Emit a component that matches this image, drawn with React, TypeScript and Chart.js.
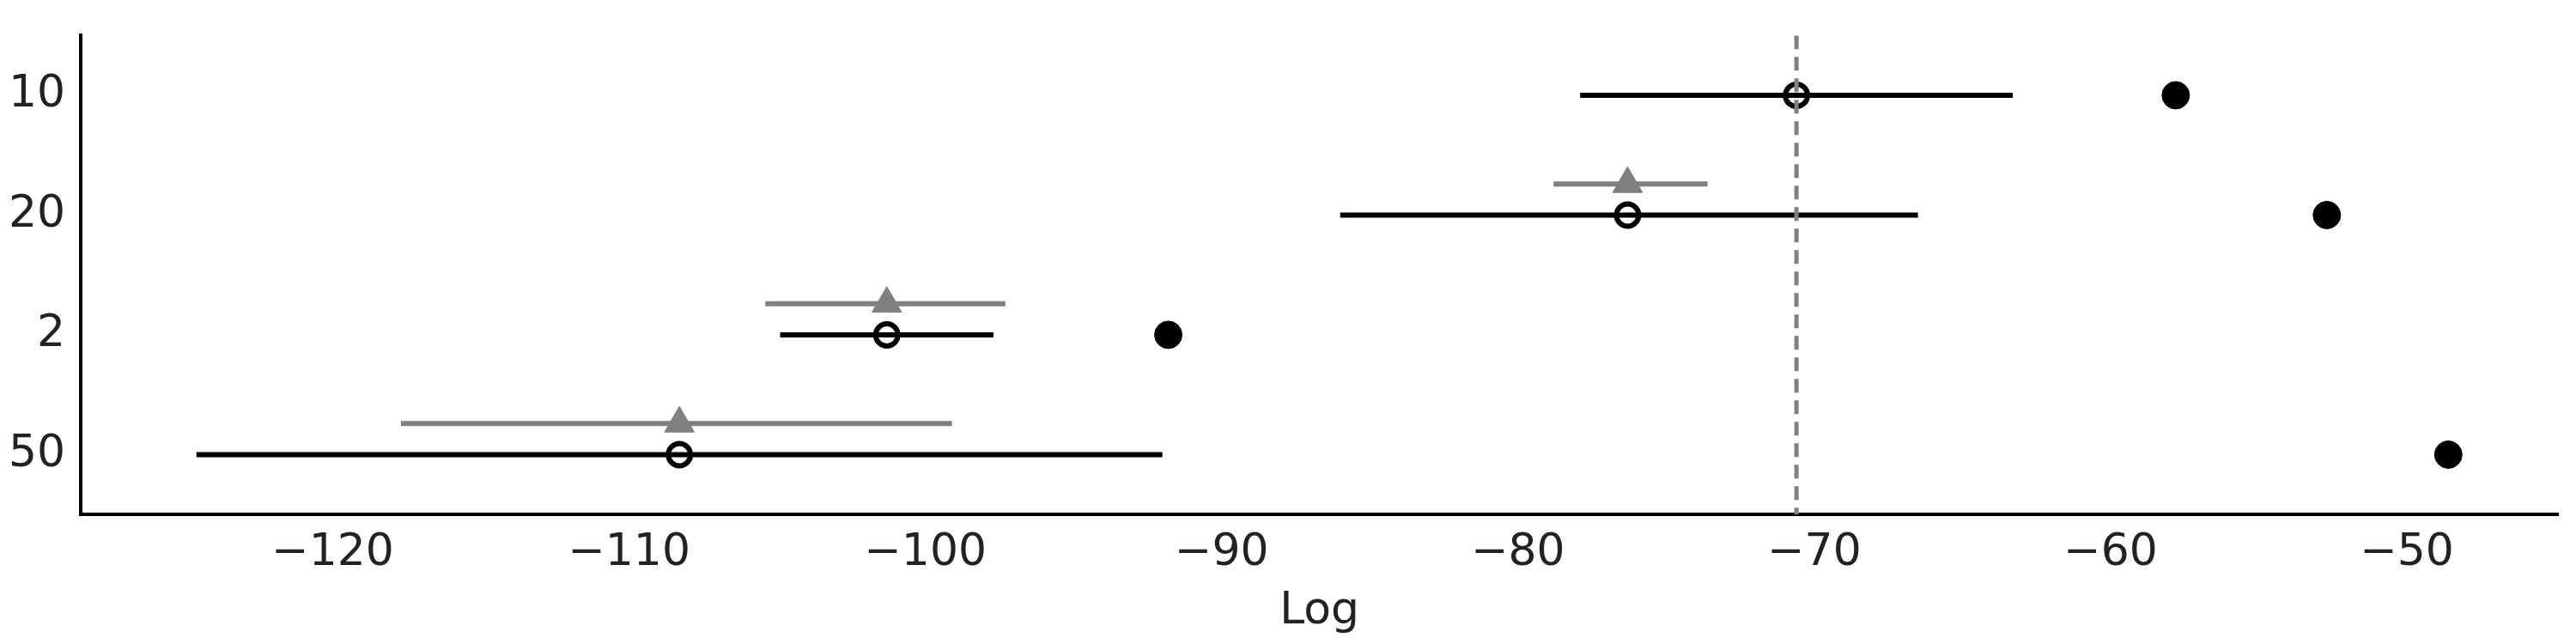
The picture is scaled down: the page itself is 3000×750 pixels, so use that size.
import React, { useEffect, useRef } from "react";
import { Chart, registerables } from "chart.js";
Chart.register(...registerables);

const models = ["10", "20", "2", "50"];
const elpd = [-70.6, -76.3, -101.3, -108.3];
const elpdLow = [-77.9, -86.0, -104.9, -124.6];
const elpdHigh = [-63.3, -66.5, -97.7, -92.0];
const inSample = [-57.8, -52.7, -91.8, -48.6];
const diffModels = [1, 2, 3];
const diffVal = [-76.3, -101.3, -108.3];
const diffLow = [-78.8, -105.4, -117.7];
const diffHigh = [-73.6, -97.3, -99.1];
const xTicks = [-120, -110, -100, -90, -80, -70, -60, -50];
const refLine = -70.6;
const TRI = 0.26;

export default function App() {
  const ref = useRef<HTMLCanvasElement>(null);
  useEffect(() => {
    document.body.style.margin = "0";
    const ds: any[] = [];
    ds.push({
      data: [{ x: refLine, y: -0.5 }, { x: refLine, y: 3.5 }],
      showLine: true, borderColor: "#808080", borderWidth: 5, borderDash: [16, 9], pointRadius: 0,
    });
    models.forEach((m, i) => {
      ds.push({
        data: [{ x: elpdLow[i], y: i }, { x: elpdHigh[i], y: i }],
        showLine: true, borderColor: "#000", borderWidth: 6, pointRadius: 0,
      });
    });
    diffModels.forEach((r, j) => {
      ds.push({
        data: [{ x: diffLow[j], y: r - TRI }, { x: diffHigh[j], y: r - TRI }],
        showLine: true, borderColor: "#808080", borderWidth: 6, pointRadius: 0,
      });
    });
    ds.push({
      data: diffVal.map((v, j) => ({ x: v, y: diffModels[j] - TRI })),
      pointStyle: "triangle", pointRadius: 20, backgroundColor: "#808080", borderColor: "#808080", borderWidth: 1,
    });
    ds.push({
      data: elpd.map((v, i) => ({ x: v, y: i })),
      pointStyle: "circle", pointRadius: 13, backgroundColor: "#fff", borderColor: "#000", borderWidth: 6,
    });
    ds.push({
      data: inSample.map((v, i) => ({ x: v, y: i })),
      pointStyle: "circle", pointRadius: 16, backgroundColor: "#000", borderColor: "#000", borderWidth: 1,
    });
    const font = { family: "DejaVu Sans", size: 52 };
    const c = new Chart(ref.current!, {
      type: "scatter",
      data: { datasets: ds },
      options: {
        animation: false, responsive: false,
        layout: { padding: { top: 8, right: 12, left: 0, bottom: 2 } },
        plugins: { legend: { display: false }, tooltip: { enabled: false } },
        scales: {
          x: {
            type: "linear", min: -128.5, max: -44.9,
            afterBuildTicks: (a: any) => { a.ticks = xTicks.map((v) => ({ value: v })); },
            ticks: { font, color: "#222", padding: 6, callback: (v: any) => (v < 0 ? "\u2212" + Math.abs(v) : String(v)) },
            grid: { display: false },
            border: { display: true, color: "#000", width: 4 },
            title: { display: true, text: "Log", font, color: "#222", padding: { top: 0 } },
          },
          y: {
            type: "linear", min: -0.5, max: 3.5, reverse: true,
            afterBuildTicks: (a: any) => { a.ticks = models.map((_, i) => ({ value: i })); },
            ticks: { font, color: "#222", padding: 10, callback: (v: any) => models[v] ?? "" },
            grid: { display: false },
            border: { display: true, color: "#000", width: 4 },
          },
        },
      },
    } as any);
    return () => c.destroy();
  }, []);
  return <canvas ref={ref} width={3000} height={750} style={{ display: "block" }} />;
}
